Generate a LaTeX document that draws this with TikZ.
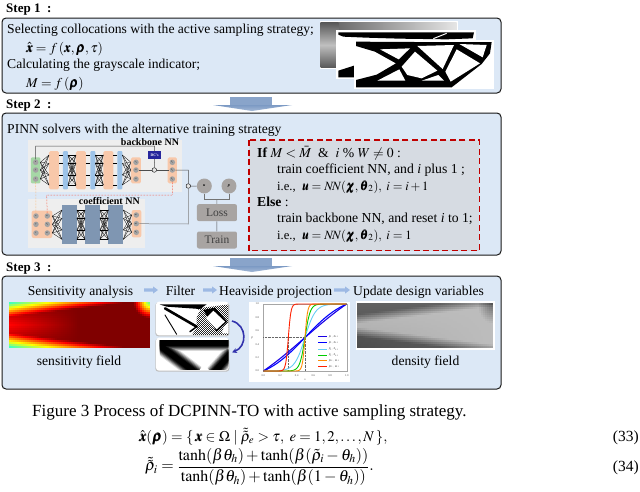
\documentclass[tikz,border=0pt]{standalone}
\usepackage{amsmath}
\usepackage{mathptmx}
\usepackage[no-math]{fontspec}
\setmainfont{Liberation Serif}
\usepackage{bm}
\usetikzlibrary{arrows.meta,calc}
\definecolor{boxblue}{HTML}{DCE8F6}
\definecolor{dashfill}{HTML}{D6DBE2}
\definecolor{peach}{HTML}{F8C8AA}
\definecolor{layerblue}{HTML}{9DC3E8}
\definecolor{steel}{HTML}{7F96B2}
\definecolor{arrowblue}{HTML}{7C9AC4}
\definecolor{lightarrow}{HTML}{9DB9E4}
\definecolor{greybox}{HTML}{A8A4A2}
\definecolor{panel}{HTML}{EEEEEE}
\definecolor{redd}{HTML}{C00000}
\definecolor{nodegrey}{HTML}{8C8C8C}
\tikzset{
  stepbox/.style={draw=black!90,line width=1pt,fill=boxblue,rounded corners=4pt},
  steplabel/.style={anchor=base west,inner sep=0pt,font=\fontsize{13}{14}\selectfont\bfseries},
  txt/.style={anchor=base west,inner sep=0pt,font=\fontsize{13.6}{15}\selectfont},
  ctxt/.style={anchor=base,inner sep=0pt,font=\fontsize{13.6}{15}\selectfont},
  smalltxt/.style={anchor=base west,inner sep=0pt,font=\fontsize{13.7}{15}\selectfont},
  mathtxt/.style={anchor=base west,inner sep=0pt,font=\fontsize{12.6}{15}\selectfont},
  netnode/.style={circle,fill=nodegrey!80,draw=none,minimum size=5.5pt,inner sep=0pt,font=\fontsize{2.5}{3}\selectfont\itshape},
  gbox/.style={fill=greybox,rounded corners=2pt,inner sep=0pt,text=black!75,font=\fontsize{11.5}{12}\selectfont},
  conn/.style={draw=black!70,line width=0.5pt},
  redconn/.style={draw=red!75!orange,line width=0.5pt,densely dotted},
  sop/.style={circle,draw=black,fill=white!80!gray,line width=0.4pt,minimum size=4.6pt,inner sep=0pt},
  ticklab/.style={inner sep=0pt,font=\fontsize{2.8}{3}\selectfont,text=black!70},
  minia/.style={fill=lightarrow},
  truss/.style={draw=black,line cap=round,line join=round},
  declare function={ct(\z)=tanh(max(-4.5,min(4.5,\z)));},
}
\newcommand{\fan}[4]{%
  \foreach \ya in {#3}{\foreach \yb in {#4}{%
    \coordinate (fa) at (#1,\ya); \coordinate (fb) at (#2,\yb);
    \draw[black,line width=0.3pt] (fa) -- (fb);}}}
\newcommand{\dotcol}[2]{\foreach \ya in {#2}{\fill[black] (#1,\ya) circle (0.7pt);}}
\newcommand{\miniarrow}[3]{% x1 x2 y
  \fill[minia] (#1,#3-1.7) -- (#2-5,#3-1.7) -- (#2-5,#3-3.6) -- (#2,#3) -- (#2-5,#3+3.6) -- (#2-5,#3+1.7) -- (#1,#3+1.7) -- cycle;}
\newcommand{\bigdown}[1]{% top y
  \fill[arrowblue!90] (230,#1) rectangle (272,#1+8);
  \shade[top color=arrowblue,bottom color=arrowblue!70,shading angle=0] (213,#1+8) -- (292,#1+8) -- (252,#1+14) -- cycle;}
\begin{document}
\begin{tikzpicture}[x=1pt,y=-1pt]
\useasboundingbox (0,0) rectangle (640,491);
\fill[white] (0,0) rectangle (640,491);

%% ---------- Step 1
\node[steplabel] (s1) at (6,12) {Step 1\enspace:};
\draw[stepbox] (2,18) rectangle (501,93);
\node[txt] (t1) at (7,33) {Selecting collocations with the active sampling strategy;};
\node[txt] (t2) at (26,52) {$\hat{\bm{x}}=f\,(\bm{x},\bm{\rho},\tau)$};
\node[txt] (t3) at (7,68) {Calculating the grayscale indicator;};
\node[txt] (t4) at (26,87) {$M=f\,(\bm{\rho})$};

\begin{scope}[shift={(300,0)},scale=0.33333]
  \fill[white] (59,64) rectangle (473,206);
  \shade[left color=black!65,right color=black!10] (62,68) rectangle (470,100);
  \shade[top color=black!65,bottom color=black!65,middle color=black!25] (62,68) rectangle (115,202);
  \fill[white] (109,91) rectangle (528,238);
  \fill[black] (115,97) -- (522,97) -- (518,115) -- (440,118) -- (300,116) -- (200,113) -- (130,110) -- (115,104) -- cycle;
  \fill[black] (115,212) -- (165,196) -- (165,232) -- (115,232) -- cycle;
  \draw[white,line width=1pt] (400,116) -- (440,100);
  \fill[white] (163,119) rectangle (581,266);
  \fill[black] (168,125) -- (345,126) -- (470,126) -- (575,126) -- (570,160) -- (545,192) -- (455,262) -- (168,262) -- (168,240) -- (230,224) -- (288,190) -- (225,155) -- (168,138) -- cycle;
  \fill[white] (240,148) -- (330,145) -- (296,178) -- cycle;
  \fill[white] (352,138) -- (462,135) -- (428,207) -- cycle;
  \fill[white] (345,155) -- (412,212) -- (365,235) -- (322,225) -- (305,200) -- cycle;
  \fill[white] (298,208) -- (316,242) -- (232,242) -- cycle;
  \fill[white] (415,225) -- (432,242) -- (365,242) -- cycle;
  \fill[white] (470,148) -- (540,190) -- (452,245) -- (436,215) -- cycle;
  \fill[white] (478,132) -- (560,135) -- (548,172) -- cycle;
\end{scope}

\bigdown{97}

%% ---------- Step 2
\node[steplabel] (s2) at (6,108) {Step 2\enspace:};
\draw[stepbox] (2,113) rectangle (501,255);
\node[txt] (t5) at (7,133) {PINN solvers with the alternative training strategy};

\begin{scope}[shift={(0,120)},scale=0.33333]
  \fill[panel] (85,60) rectangle (545,215);
  \fill[panel] (85,237) rectangle (435,385);
  % backbone
  \fill[green!55!black!35,rounded corners=1pt] (93,112) rectangle (121,190);
  \foreach \xx in {147,228,310}{\fill[peach,rounded corners=1.5pt] (\xx,93) rectangle (\xx+30,208);}
  \foreach \xx in {189,271,352}{\fill[layerblue,rounded corners=1pt] (\xx,93) rectangle (\xx+15,208);}
  \fan{121}{147}{127,150,177}{105,130,165,195}
  \fan{204}{228}{105,130,165,195}{105,130,165,195}
  \fan{286}{310}{105,130,165,195}{105,130,165,195}
  \fan{367}{393}{105,130,165,195}{127,150,177}
  \foreach \aa/\ab in {177/189,258/271,340/352}{\foreach \yy in {105,130,165,195}{\draw[black,line width=0.3pt] (\aa,\yy) -- (\ab,\yy);}}
  \dotcol{216}{112,122,132,142,152,162,172,182,190}
  \dotcol{298}{112,122,132,142,152,162,172,182,190}
  \fill[peach,rounded corners=1.5pt] (393,112) rectangle (423,190);
  \fill[peach,rounded corners=1.5pt] (503,112) rectangle (531,190);
  \node[netnode] (bx) at (107,127) {x};
  \node[netnode] (by) at (107,150) {y};
  \node[netnode] (bt) at (107,177) {t};
  \node[netnode] (o1) at (408,127) {$s_1$};
  \node[netnode] (o2) at (408,150) {$s_2$};
  \node[netnode] (o3) at (408,177) {$s_3$};
  \node[netnode] (p1) at (517,127) {$\hat{s}_1$};
  \node[netnode] (p2) at (517,150) {$\hat{s}_2$};
  \node[netnode] (p3) at (517,177) {$\hat{s}_3$};
  \node[sop] (dot1) at (463,150) {};
  \node[fill=blue!55!black!85,text=white,inner sep=0pt,minimum width=13.5pt,minimum height=7.5pt,font=\fontsize{3.8}{4}\selectfont\bfseries] (dc) at (464,105) {DC's};
  \node[inner sep=0pt,font=\fontsize{10}{11}\selectfont\bfseries] (bbt) at (450,66) {backbone NN};
  \coordinate (tl) at (107,78); \coordinate (tr) at (464,78);
  \draw[conn] (bx) -- (tl) -- (tr) -- (dc);
  \draw[conn] (o2) -- (dot1); \draw[conn] (dot1) -- (p2); \draw[conn] (dc) -- (dot1);
  % coefficient
  \fill[peach,rounded corners=2pt] (95,272) rectangle (157,354);
  \foreach \xx in {186,255,325}{\fill[steel] (\xx,255) rectangle (\xx+45,372);}
  \fill[peach,rounded corners=2pt] (395,270) rectangle (424,352);
  \fan{157}{186}{288,313,339}{270,295,330,358}
  \fan{231}{255}{270,295,330,358}{270,295,330,358}
  \fan{300}{325}{270,295,330,358}{270,295,330,358}
  \fan{370}{395}{270,295,330,358}{285,311,337}
  \dotcol{243}{278,290,302,314,326,338,350}
  \dotcol{312}{278,290,302,314,326,338,350}
  \node[netnode] (cx) at (108,288) {x};
  \node[netnode] (cy) at (108,313) {y};
  \node[netnode] (ct) at (108,339) {t};
  \node[netnode] (c1) at (142,288) {$s_1$};
  \node[netnode] (c2) at (142,313) {$s_2$};
  \node[netnode] (c3) at (142,339) {$s_3$};
  \node[netnode] (a1) at (409,285) {$a_1$};
  \node[netnode] (a2) at (409,311) {$a_2$};
  \node[netnode] (a3) at (409,337) {$a_3$};
  \node[inner sep=0pt,font=\fontsize{10}{11}\selectfont\bfseries] (cft) at (328,243) {coefficient NN};
  % right side
  \node[sop] (dot2) at (565,198) {};
  \node[circle,fill=greybox,minimum size=15pt,inner sep=0pt,font=\fontsize{4}{5}\selectfont\bfseries\itshape] (u) at (613,198) {u};
  \node[circle,fill=greybox,minimum size=15pt,inner sep=0pt,font=\fontsize{4}{5}\selectfont\bfseries\itshape] (pp) at (687,198) {p};
  \node[gbox,minimum width=40pt,minimum height=17pt] (loss) at (651,278) {Loss};
  \node[gbox,minimum width=40pt,minimum height=17pt] (train) at (651,360) {Train};
  \coordinate (k1) at (565,150); \coordinate (k2) at (565,312); \coordinate (m) at (651,237);
  \draw[conn] (p2) -- (k1) -- (dot2);
  \draw[conn,draw=black!50] (a2) -- (k2) -- (dot2);
  \draw[conn] (dot2) -- (u);
  \draw[conn,draw=black!55] (u) |- (m); \draw[conn,draw=black!55] (pp) |- (m);
  \draw[conn,draw=black!55] (m) -- (loss); \draw[conn] (loss) -- (train);
  \coordinate (r1) at (517,225); \coordinate (r2) at (140,225);
  \draw[redconn] (p3) -- (r1) -- (r2) -- (c1);
  \draw[redconn,draw=orange!70] (bt) -- (cx);
\end{scope}

\begin{scope}[shift={(240,120)},scale=0.33333]
  \draw[draw=redd,line width=1.3pt,dash pattern=on 6pt off 3.5pt,fill=dashfill] (27,60) rectangle (718,392);
\end{scope}
\node[smalltxt] (i1) at (257,157) {\textbf{If} $M<\bar{M}$\ \ \&\ \ $i$ \% $W\neq 0$ :};
\node[smalltxt] (i2) at (277,173) {train coefficient NN, and \textit{i} plus 1 ;};
\node[mathtxt] (i3) at (277,190) {i.e.,\ \ $\bm{u}=N\!N(\bm{\chi},\bm{\theta}_2),\ i=i+1$};
\node[smalltxt] (i4) at (257,206) {\textbf{Else} :};
\node[smalltxt] (i5) at (277,222) {train backbone NN, and reset \textit{i} to 1;};
\node[mathtxt] (i6) at (277,239) {i.e.,\ \ $\bm{u}=N\!N(\bm{\chi},\bm{\theta}_2),\ i=1$};

\bigdown{258}

%% ---------- Step 3
\node[steplabel] (s3) at (6,271) {Step 3\enspace:};
\draw[stepbox] (2,276) rectangle (501,389);
\node[ctxt] (a) at (80.5,295) {Sensitivity analysis};
\miniarrow{144}{158}{290}
\node[ctxt] (b) at (180.5,295) {Filter};
\miniarrow{203}{217}{290}
\node[txt] (c) at (219,295) {Heaviside projection};
\miniarrow{334}{350}{290}
\node[txt] (d) at (353,295) {Update design variables};

% sensitivity field (x 9..150, y 302..348)
\foreach \i in {0,...,69}{\foreach \j in {0,...,22}{%
  \pgfmathsetmacro{\uu}{(\i+.5)/70}
  \pgfmathsetmacro{\yy}{(\j+.5)/23}
  \pgfmathsetmacro{\vv}{abs(2*\yy-1)}
  \pgfmathsetmacro{\ee}{max(0,\vv-0.35-0.75*\uu)/0.65}
  \pgfmathsetmacro{\cc}{max(0,1-sqrt(((1-\uu)*3)^2+\yy^2)/0.35)}
  \pgfmathsetmacro{\sval}{1-0.6*\ee-0.13*max(0,1-\uu/0.5)*(1-\vv)-0.55*\cc}
  \pgfmathsetmacro{\rr}{min(1,max(0,1.5-abs(4*\sval-3)))}
  \pgfmathsetmacro{\gn}{min(1,max(0,1.5-abs(4*\sval-2)))}
  \pgfmathsetmacro{\bb}{min(1,max(0,1.5-abs(4*\sval-1)))}
  \fill[fill={rgb,1:red,\rr;green,\gn;blue,\bb}] (9+\i*2.014,302+\j*2) rectangle (9+\i*2.014+2.3,302+\j*2+2.3);
}}
\node[ctxt] (sf) at (79,365) {sensitivity field};

% filter images
\begin{scope}[shift={(0,265)},scale=0.33333]
  \fill[black!25,rounded corners=3pt] (466,112) rectangle (688,214);
  \fill[white,rounded corners=3pt] (468,110) rectangle (686,211);
  \begin{scope}
    \clip (480,118) rectangle (685,208);
    \fill[black!85] (590,130) -- (690,118) -- (690,210) -- (575,210) -- (590,190) -- cycle;
    \foreach \ci in {0,...,19}{\foreach \cj in {0,...,16}{%
      \fill[white] (570+\ci*6,118+\cj*6) rectangle (573+\ci*6,121+\cj*6);
      \fill[white] (573+\ci*6,121+\cj*6) rectangle (576+\ci*6,124+\cj*6);}}
    \fill[black] (610,135) -- (645,128) -- (682,170) -- (650,200) -- cycle;
    \fill[white] (640,137) -- (675,170) -- (650,193) -- (617,160) -- cycle;
    \fill[white] (672,185) -- (690,170) -- (690,205) -- (665,205) -- cycle;
    \fill[white] (560,125) -- (600,135) -- (585,165) -- (560,170) -- cycle;
    \fill[black] (478,118) -- (620,118) -- (600,132) -- (500,125) -- cycle;
    \draw[truss,line width=2.6pt] (495,130) -- (590,185);
    \draw[truss,line width=0.9pt] (495,150) -- (530,208);
    \draw[truss,line width=1.5pt] (590,185) -- (570,200);
  \end{scope}
  \fill[black!25,rounded corners=3pt] (466,220) rectangle (688,320);
  \fill[white,rounded corners=3pt] (468,218) rectangle (686,317);
  \begin{scope}
    \clip (480,226) rectangle (685,312);
    \foreach \w/\c in {16/15,14/35,12/55,10/75,8/90,6/100}{
      \draw[black!\c,line width=\w pt] (470,235) -- (690,235);
      \draw[black!\c,line width=\w pt] (472,236) -- (590,325);
      \draw[black!\c,line width=\w pt] (640,325) -- (695,262);
    }
  \end{scope}
  \coordinate (ca) at (696,168); \coordinate (cb) at (696,262);
  \draw[blue!60!black!80,line width=1.6pt,-{Stealth[length=5pt,width=5pt]}] (ca) .. controls (742,180) and (742,245) .. (cb);
\end{scope}

% chart
\begin{scope}[shift={(240,265)},scale=0.33333]
  \fill[white] (28,110) rectangle (330,352);
  \draw[black!35,line width=0.3pt] (70,117) rectangle (320,318);
  \draw[black!60,line width=0.4pt,densely dotted] (70,218) -- (195,218) -- (195,318);
  \draw[black!60,line width=0.4pt,densely dotted] (145,218) -- (145,318);
  \foreach \bt/\tht/\col/\wd in {1/0.5/blue!80!violet/1.1,2/0.5/blue/1.1,8/0.5/cyan!60/0.9,16/0.5/green!80!black/0.9,32/0.5/orange!90!yellow/0.9,32/0.3/red!75!orange/0.9}{
    \draw[\col,line width=\wd pt] plot[domain=0:1,samples=90,variable=\q]
      ({70+250*\q},{318-201*(ct(\bt*\tht)+ct(\bt*(\q-\tht)))/(ct(\bt*\tht)+ct(\bt*(1-\tht)))});
  }
  \foreach \v/\l in {117/1.0,157/0.8,197/0.6,238/0.4,278/0.2,318/0.0}{\node[ticklab] at (52,\v) {\l};}
  \foreach \v/\l in {70/0.0,120/0.2,170/0.4,220/0.6,270/0.8,320/1.0}{\node[ticklab] at (\v,332) {\l};}
  \node[ticklab,font=\fontsize{3}{3}\selectfont\itshape] at (195,345) {x};
  \node[ticklab,font=\fontsize{3}{3}\selectfont\itshape] at (36,218) {$\tilde{\rho}$};
  \foreach \v/\col/\l/\m in {215/blue!80!violet/1/0.5,232/blue/2/0.5,252/cyan!60/4/0.5,270/green!80!black/8/0.5,287/orange!90!yellow/16/0.5,305/red!75!orange/32/0.3}{
    \draw[\col,line width=0.6pt] (235,\v) -- (262,\v);
    \node[ticklab,anchor=west] at (266,\v) {$\beta_{\l},\ \theta_{\m}$};
  }
\end{scope}

% density field (x 357..493, y 303..348)
\fill[white] (356,301) rectangle (495,349.5);
\foreach \i in {0,...,67}{\foreach \j in {0,...,22}{%
  \pgfmathsetmacro{\uu}{(\i+.5)/68}
  \pgfmathsetmacro{\yy}{(\j+.5)/23}
  \pgfmathsetmacro{\vv}{abs(2*\yy-1)}
  \pgfmathsetmacro{\ee}{min(1,max(0,\vv-0.1-0.75*\uu)/0.4)}
  \pgfmathsetmacro{\cc}{max(0,1-sqrt(((1-\uu)*4)^2+\yy^2)/0.45)}
  \pgfmathsetmacro{\gry}{0.74-0.36*\ee-0.33*\cc-0.08*\yy*(1-\uu)}
  \fill[fill={rgb,1:red,\gry;green,\gry;blue,\gry}] (357+\i*2,303+\j*1.96) rectangle (357+\i*2+2.3,303+\j*1.96+2.3);
}}
\node[ctxt] (df) at (425.5,365) {density field};

%% ---------- caption and equations
\node[anchor=base west,inner sep=0pt,font=\fontsize{17}{18}\selectfont] (cap) at (32,416) {Figure 3 Process of DCPINN-TO with active sampling strategy.};
\node[anchor=base west,inner sep=0pt,font=\fontsize{14.8}{16}\selectfont] (e33) at (139,441) {$\hat{\bm{x}}(\bm{\rho})=\{\,\bm{x}\in\Omega\mid\tilde{\tilde{\rho}}_e>\tau,\ e=1,2,\ldots,N\,\},$};
\node[anchor=west,inner sep=0pt,font=\fontsize{16}{18}\selectfont] (e34) at (145,467) {$\displaystyle\tilde{\tilde{\rho}}_i=\frac{\tanh(\beta\theta_h)+\tanh(\beta(\tilde{\rho}_i-\theta_h))}{\tanh(\beta\theta_h)+\tanh(\beta(1-\theta_h))}.$};
\node[anchor=base east,inner sep=0pt,font=\fontsize{15.5}{17}\selectfont] (n33) at (639,441) {(33)};
\node[anchor=base east,inner sep=0pt,font=\fontsize{15.5}{17}\selectfont] (n34) at (639,471) {(34)};
\end{tikzpicture}
\end{document}
